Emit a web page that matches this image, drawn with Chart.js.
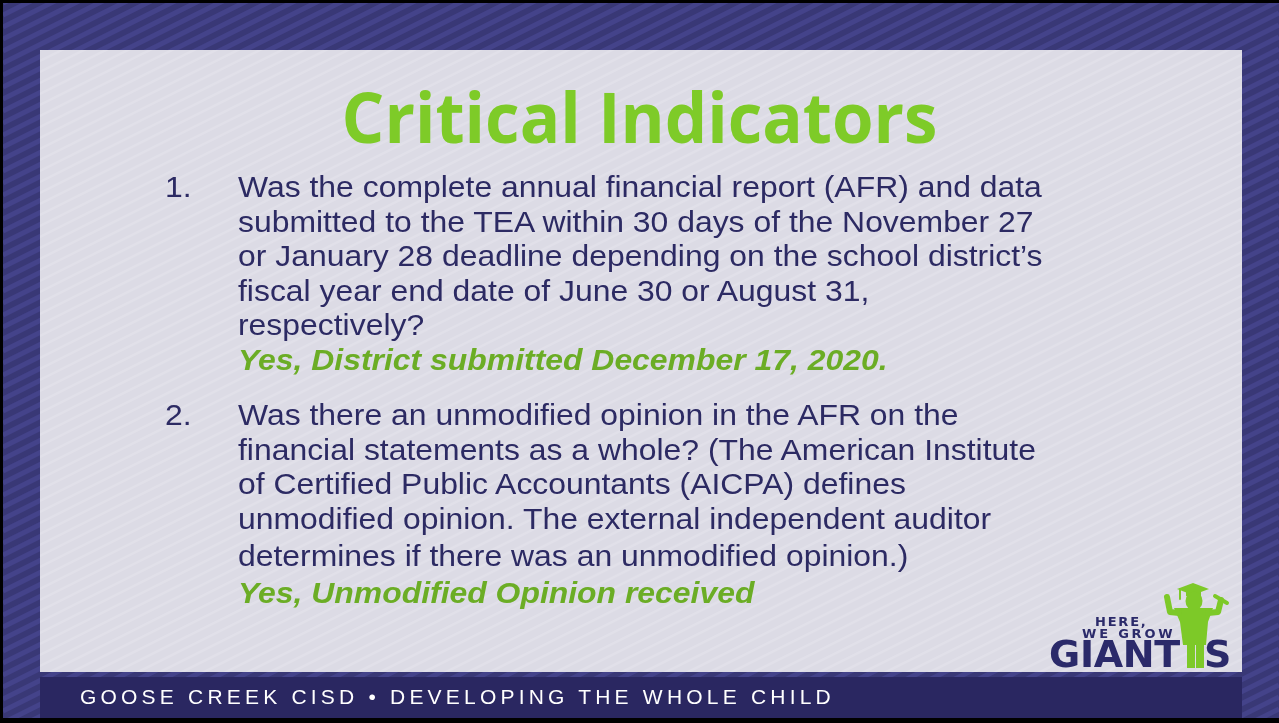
<!DOCTYPE html>
<html>
<head>
<meta charset="utf-8">
<script src="https://cdn.jsdelivr.net/npm/chart.js@4.4.1/dist/chart.umd.min.js"></script>
<style>
  html, body { margin: 0; padding: 0; background: #000; }
  #wrap { position: relative; width: 1279px; height: 723px; overflow: hidden; }
  #bg { position: absolute; left: 0; top: 0; }
  .t { position: absolute; white-space: nowrap; }
  #title { left: 0; width: 1279px; text-align: center; top: 68px;
    font: bold 70px "Open Sans", sans-serif; color: #7ecb28; line-height: 96px;
    transform: scaleX(0.96); transform-origin: 641px 0; }
  .line { font: 29px "Liberation Sans", Arial, sans-serif; color: #2c2a63; line-height: 34px;
    transform: scaleX(1.1); transform-origin: 0 0; }
  .ans { font: italic bold 29px "Liberation Sans", Arial, sans-serif; color: #6bad25; line-height: 34px;
    transform: scaleX(1.1); transform-origin: 0 0; }
  #footer { left: 80px; top: 683px; font: 21px "Liberation Sans", Arial, sans-serif; color: #fff;
    letter-spacing: 4.2px; line-height: 28px; }
  .logo { font-family: "DejaVu Sans", sans-serif; font-weight: bold; color: #2b2a6a; }
</style>
</head>
<body>
<div id="wrap">
  <canvas id="bg" width="1279" height="723"></canvas>
  <div id="title" class="t"></div>
  <div id="items"></div>
  <div id="footer" class="t"></div>
  <div class="t logo" style="left:1095px;top:615px;font-size:13px;letter-spacing:1.8px;line-height:14px;">HERE,</div>
  <div class="t logo" style="left:1082px;top:627px;font-size:13px;letter-spacing:2.8px;line-height:14px;">WE GROW</div>
  <div class="t logo" style="left:1049px;top:634px;font-size:38px;line-height:40px;letter-spacing:-0.3px;">GIANT</div>
  <div class="t logo" style="left:1204px;top:634px;font-size:38px;line-height:40px;">S</div>
  <svg class="t" style="left:0;top:0" width="1279" height="723" viewBox="0 0 1279 723">
    <g fill="#7dc928" stroke="none">
      <polygon points="1177,589 1193,583 1209,589 1193,595"/>
      <rect x="1186" y="590" width="15" height="6"/>
      <ellipse cx="1194" cy="601" rx="8.5" ry="9.5"/>
      <rect x="1189" y="606" width="10" height="5"/>
      <polygon points="1174,608 1213,608 1208,622 1206,645 1183,645 1180,622"/>
      <rect x="1187" y="644" width="8" height="24"/>
      <rect x="1196" y="644" width="8" height="24"/>
    </g>
    <g fill="none" stroke="#7dc928" stroke-linecap="round" stroke-linejoin="round">
      <line x1="1180" y1="589" x2="1180" y2="599" stroke-width="2"/>
      <polyline points="1179,613 1170,612 1167,597" stroke-width="6"/>
      <polyline points="1208,613 1218,612 1221,600" stroke-width="6"/>
      <line x1="1215" y1="596" x2="1227" y2="603" stroke-width="4"/>
    </g>
  </svg>
</div>
<script>
// slide text
const title = 'Critical Indicators';
const numbers = ['1.', '2.'];
const question1 = [
  'Was the complete annual financial report (AFR) and data',
  'submitted to the TEA within 30 days of the November 27',
  'or January 28 deadline depending on the school district\u2019s',
  'fiscal year end date of June 30 or August 31,',
  'respectively?'
];
const answer1 = 'Yes, District submitted December 17, 2020.';
const question2 = [
  'Was there an unmodified opinion in the AFR on the',
  'financial statements as a whole? (The American Institute',
  'of Certified Public Accountants (AICPA) defines',
  'unmodified opinion. The external independent auditor',
  'determines if there was an unmodified opinion.)'
];
const answer2 = 'Yes, Unmodified Opinion received';
const footerText = 'GOOSE CREEK CISD \u2022 DEVELOPING THE WHOLE CHILD';

// baselines of each text line
const baselines1 = [197, 231.5, 266, 300.5, 335, 370];
const baselines2 = [425, 459.5, 494, 528.5, 565.5, 603];

document.getElementById('title').textContent = title;
document.getElementById('footer').textContent = footerText;

const items = document.getElementById('items');
function addLine(text, x, baseline, cls) {
  const d = document.createElement('div');
  d.className = 't ' + cls;
  d.textContent = text;
  d.style.left = x + 'px';
  d.style.top = (baseline - 27) + 'px';
  items.appendChild(d);
}
addLine(numbers[0], 165, baselines1[0], 'line');
question1.forEach((s, i) => addLine(s, 238, baselines1[i], 'line'));
addLine(answer1, 238, baselines1[5], 'ans');
addLine(numbers[1], 165, baselines2[0], 'line');
question2.forEach((s, i) => addLine(s, 238, baselines2[i], 'line'));
addLine(answer2, 238, baselines2[5], 'ans');

// striped slide frame, drawn as a Chart.js plugin
function stripes(ctx, x, y, w, h, color, width, period) {
  ctx.save();
  ctx.beginPath();
  ctx.rect(x, y, w, h);
  ctx.clip();
  ctx.strokeStyle = color;
  ctx.lineWidth = width;
  const rise = w * 0.5;
  ctx.beginPath();
  for (let c = y; c < y + h + rise + period; c += period) {
    ctx.moveTo(x, c);
    ctx.lineTo(x + w, c - rise);
  }
  ctx.stroke();
  ctx.restore();
}

const framePlugin = {
  id: 'frame',
  beforeDraw(chart) {
    const ctx = chart.ctx;
    ctx.save();
    ctx.fillStyle = '#000';
    ctx.fillRect(0, 0, 1279, 723);
    ctx.fillStyle = '#393876';
    ctx.fillRect(3, 3, 1276, 715);
    stripes(ctx, 3, 3, 1276, 715, '#44438a', 5, 12);
    ctx.fillStyle = '#dcdbe5';
    ctx.fillRect(40, 50, 1202, 622);
    stripes(ctx, 40, 50, 1202, 622, '#e1e0e9', 2.5, 11);
    ctx.fillStyle = '#2a2761';
    ctx.fillRect(40, 677, 1202, 41);
    ctx.fillStyle = '#000';
    ctx.fillRect(0, 718, 1279, 5);
    ctx.restore();
  }
};

new Chart(document.getElementById('bg'), {
  type: 'scatter',
  data: { datasets: [] },
  options: {
    responsive: false,
    animation: false,
    plugins: { legend: { display: false }, tooltip: { enabled: false } },
    scales: { x: { display: false }, y: { display: false } }
  },
  plugins: [framePlugin]
});
</script>
</body>
</html>
